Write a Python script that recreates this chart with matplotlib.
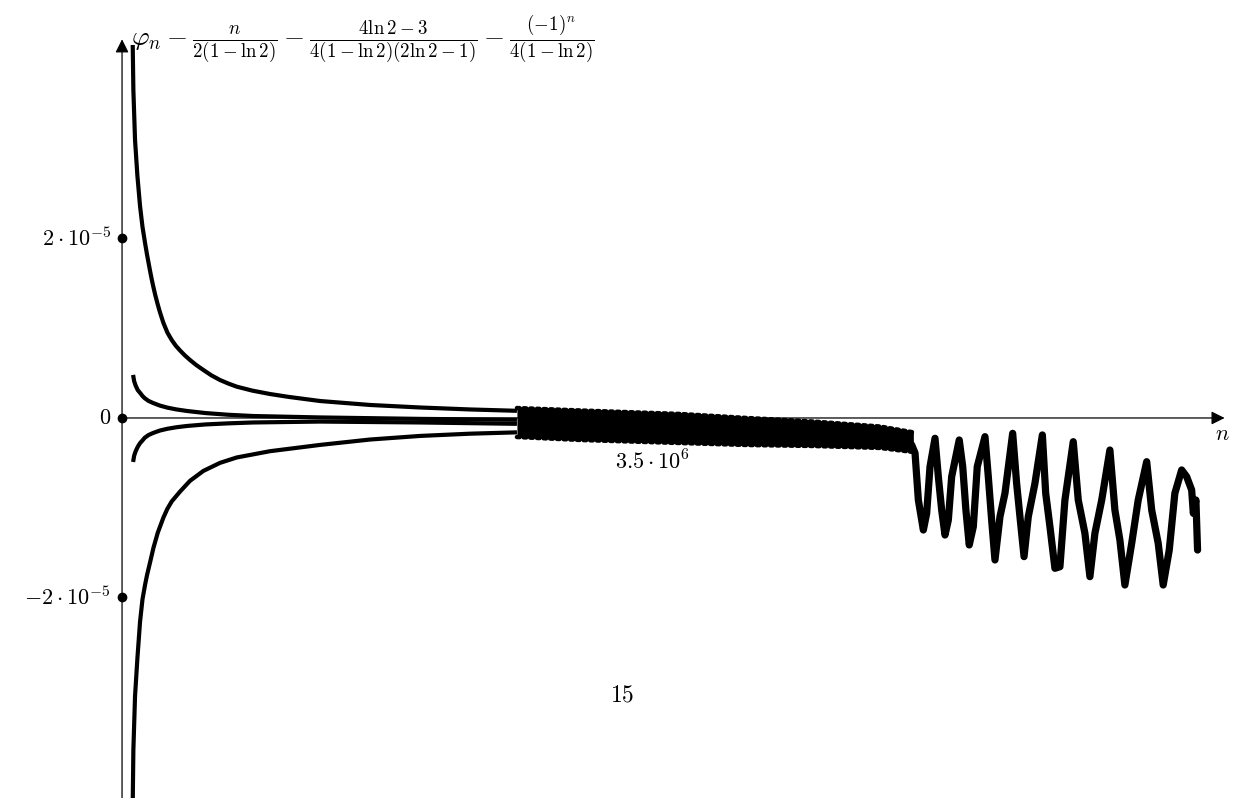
import matplotlib.pyplot as plt

##########
# Data (n in millions, values in units of 1e-5)
##########

up_out_n = [0.0705, 0.0748, 0.0858, 0.1013, 0.1189, 0.1350, 0.1519, 0.165, 0.1849, 0.196,
            0.2069, 0.220, 0.2356, 0.250, 0.2730, 0.300, 0.3280, 0.355, 0.3830, 0.415,
            0.4490, 0.490, 0.5369, 0.590, 0.6471, 0.700, 0.7574, 0.860, 0.9773, 1.100,
            1.308, 1.638, 1.968, 2.298, 2.608]
up_out_v = [4.156, 3.655, 3.097, 2.700, 2.360, 2.130, 1.950, 1.820, 1.640, 1.545,
            1.460, 1.365, 1.265, 1.180, 1.060, 0.950, 0.869, 0.805, 0.752, 0.697,
            0.646, 0.590, 0.535, 0.475, 0.423, 0.385, 0.349, 0.305, 0.267, 0.235,
            0.189, 0.145, 0.117, 0.095, 0.080]

lo_out_n = [0.0705, 0.0748, 0.0858, 0.1013, 0.1189, 0.1350, 0.1519, 0.165, 0.1849, 0.2069,
            0.2356, 0.2730, 0.300, 0.3280, 0.3830, 0.4490, 0.5369, 0.6471, 0.7574, 0.9773,
            1.308, 1.638, 1.968, 2.298, 2.608]
lo_out_v = [-4.30, -3.70, -3.10, -2.68, -2.27, -2.02, -1.86, -1.75, -1.61, -1.45,
            -1.28, -1.11, -1.01, -0.93, -0.82, -0.70, -0.59, -0.50, -0.44, -0.37,
            -0.30, -0.24, -0.20, -0.175, -0.16]

up_in_n = [0.073, 0.080, 0.090, 0.104, 0.119, 0.135, 0.150, 0.175, 0.205, 0.250, 0.300,
           0.360, 0.429, 0.550, 0.700, 0.865, 1.308, 1.968, 2.608]
up_in_v = [0.48, 0.41, 0.36, 0.31, 0.28, 0.245, 0.22, 0.19, 0.167, 0.138, 0.115,
           0.095, 0.078, 0.055, 0.036, 0.022, 0.006, -0.010, -0.020]

lo_in_n = [0.073, 0.080, 0.090, 0.104, 0.119, 0.135, 0.150, 0.175, 0.205, 0.250, 0.300,
           0.360, 0.429, 0.550, 0.700, 0.865, 1.308, 1.968, 2.608]
lo_in_v = [-0.49, -0.42, -0.37, -0.32, -0.28, -0.25, -0.22, -0.19, -0.167, -0.140, -0.120,
           -0.103, -0.089, -0.072, -0.060, -0.050, -0.040, -0.050, -0.065]

band_n = [2.608, 3.024, 3.685, 4.127, 4.563, 5.006, 5.226]
band_top = [0.111, 0.084, 0.045, 0.0, -0.039, -0.095, -0.160]
band_bot = [-0.212, -0.245, -0.279, -0.301, -0.312, -0.334, -0.379]

osc_n = [5.215, 5.237, 5.259, 5.292, 5.314, 5.336, 5.369, 5.391, 5.413, 5.435, 5.457,
         5.479, 5.529, 5.552, 5.573, 5.595, 5.622, 5.648, 5.699, 5.721, 5.743, 5.765,
         5.798, 5.831, 5.882, 5.908, 5.930, 5.957, 5.985, 6.029, 6.078, 6.100, 6.128,
         6.161, 6.194, 6.227, 6.282, 6.315, 6.359, 6.392, 6.425, 6.470, 6.524, 6.557,
         6.590, 6.623, 6.668, 6.711, 6.767, 6.800, 6.843, 6.876, 6.916, 6.953, 6.998,
         7.031, 7.064, 7.075, 7.092, 7.103]
osc_v = [-0.30, -0.39, -0.914, -1.248, -1.062, -0.542, -0.226, -0.654, -1.025, -1.304, -1.137,
         -0.654, -0.245, -0.542, -1.025, -1.415, -1.211, -0.542, -0.208, -0.654, -1.137, -1.582,
         -1.100, -0.839, -0.171, -0.728, -1.100, -1.545, -1.100, -0.728, -0.189, -0.839, -1.211,
         -1.675, -1.657, -0.914, -0.264, -0.914, -1.285, -1.768, -1.285, -0.914, -0.357, -1.025,
         -1.359, -1.861, -1.396, -0.914, -0.487, -1.025, -1.396, -1.861, -1.471, -0.839, -0.579,
         -0.654, -0.802, -1.062, -0.914, -1.471]

ytick_vals = [2, 0, -2]
ytick_labels = [r'$2\cdot10^{-5}$', r'$0$', r'$-2\cdot10^{-5}$']
xtick_val = 3.5
xtick_label = r'$3.5\cdot10^{6}$'

XS = 1e6
YS = 1e-5

##########
# Figure
##########

plt.rcParams['mathtext.fontset'] = 'cm'

fig = plt.figure(figsize=(12.33, 7.98), dpi=100)
ax = fig.add_axes([0, 0, 1, 1])
ax.axis('off')
ax.set_xlim(-0.806 * XS, 7.337 * XS)
ax.set_ylim(-4.234 * YS, 4.657 * YS)


def sc(ns, vs):
    return [n * XS for n in ns], [v * YS for v in vs]


# axes with arrows
ax.annotate('', xy=(0, 4.25 * YS), xytext=(0, -4.3 * YS),
            arrowprops=dict(arrowstyle='-|>', lw=0.9, color='black', mutation_scale=20))
ax.annotate('', xy=(7.30 * XS, 0), xytext=(0, 0),
            arrowprops=dict(arrowstyle='-|>', lw=0.9, color='black', mutation_scale=20))

# curves
lw = 3.0
for ns, vs in [(up_out_n, up_out_v), (lo_out_n, lo_out_v), (up_in_n, up_in_v), (lo_in_n, lo_in_v)]:
    x, y = sc(ns, vs)
    ax.plot(x, y, color='black', lw=lw, solid_capstyle='butt', solid_joinstyle='round')

# dense oscillating band
bx, bt = sc(band_n, band_top)
_, bb = sc(band_n, band_bot)
ax.fill_between(bx, bt, bb, color='black', lw=0)
ax.plot(bx, bt, color='black', lw=3.2, ls=(0, (0.6, 0.9)), dash_capstyle='round')
ax.plot(bx, bb, color='black', lw=3.2, ls=(0, (0.6, 0.9)), dash_capstyle='round')

ox, oy = sc(osc_n, osc_v)
ax.plot(ox, oy, color='black', lw=5.2, solid_joinstyle='round', solid_capstyle='round')

# ticks
for v, lab in zip(ytick_vals, ytick_labels):
    ax.plot(0, v * YS, 'o', color='black', ms=6, zorder=5)
    ax.annotate(lab, xy=(0, v * YS), xytext=(-8, 0), textcoords='offset points',
                ha='right', va='center', fontsize=16)

ax.text(xtick_val * XS, -0.49 * YS, xtick_label, ha='center', va='center', fontsize=16)
ax.text(7.264 * XS, -0.18 * YS, r'$n$', ha='center', va='center', fontsize=16)

fig.text(131 / 1233, 1 - 40 / 798,
         r'$\varphi_n-\frac{n}{2(1-\ln 2)}-\frac{4\ln 2-3}{4(1-\ln 2)(2\ln 2-1)}-\frac{(-1)^n}{4(1-\ln 2)}$',
         ha='left', va='center', fontsize=19.5)

fig.text(622 / 1233, 1 - 695 / 798, r'$15$', ha='center', va='center', fontsize=17)

fig.savefig('out.png', dpi=100)
